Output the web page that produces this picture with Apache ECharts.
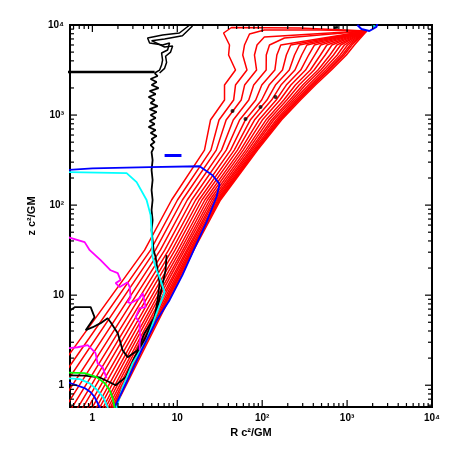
<!DOCTYPE html>
<html>
<head>
<meta charset="utf-8">
<script src="https://cdn.jsdelivr.net/npm/echarts@6/dist/echarts.min.js"></script>
<style>
  html, body { margin: 0; padding: 0; background: #fff; }
  #chart { width: 457px; height: 457px; }
</style>
</head>
<body>
<div id="chart"></div>
<script>
// axis ranges (R and z in units of GM/c^2)
const xRange = [0.545, 10000]
const yRange = [0.573, 10000]
const powLabels = { 0: '1', 1: '10', 2: '10²', 3: '10³', 4: '10⁴' }
const majorTicks = [1, 10, 100, 1000, 10000]
const minorTicks = [0.6, 0.7, 0.8, 0.9, 2, 3, 4, 5, 6, 7, 8, 9, 20, 30, 40, 50, 60, 70, 80, 90,
  200, 300, 400, 500, 600, 700, 800, 900, 2000, 3000, 4000, 5000, 6000, 7000, 8000, 9000]

// red contours: shared z levels, R of each contour at those levels
const redZ = [0.41, 31.6, 114, 408, 880, 1468, 2154, 3162, 4642, 5995]
const redR = [
  [0.147, 4.12, 8.57, 20.9, 24.6, 36.0, 36.0, 48.5, 40.2, 41.2],
  [0.195, 4.84, 10.05, 24.9, 31.0, 46.1, 48.5, 66.2, 59.0, 61.9],
  [0.247, 5.52, 11.48, 28.8, 37.6, 56.6, 62.1, 85.9, 81.1, 86.9],
  [0.313, 6.31, 13.11, 33.2, 45.6, 69.5, 79.4, 111.4, 111.7, 121.9],
  [0.387, 7.11, 14.77, 37.7, 54.2, 83.9, 98.9, 141.0, 148.9, 165.5],
  [0.467, 7.90, 16.42, 42.4, 63.2, 98.6, 120.5, 173.4, 192.6, 216.9],
  [0.551, 8.66, 18.0, 46.9, 72.3, 113.8, 143.3, 208.4, 240.4, 274.7],
  [0.634, 9.40, 19.5, 51.1, 81.1, 129.1, 166.4, 243.2, 291.7, 336.5],
  [0.733, 10.2, 21.1, 55.6, 91.2, 146.2, 192.2, 284.4, 352.4, 412.1],
  [0.823, 10.9, 22.6, 59.7, 100.3, 161.9, 217.7, 324.3, 414.9, 489],
  [0.927, 11.6, 24.1, 64.1, 110.6, 179.5, 245.9, 369, 485.3, 578.3],
  [1.016, 12.2, 25.5, 68.1, 119.2, 194.7, 272.4, 409, 552.1, 662.3],
  [1.117, 12.9, 26.8, 72.1, 128.6, 211.3, 300.4, 454.6, 628.1, 758.6],
  [1.20, 13.4, 27.9, 75.2, 136.5, 224.8, 323, 490.6, 691.8, 841.4],
  [1.286, 14.0, 29.1, 78.5, 145.9, 237.9, 350.6, 526, 765.4, 929],
  [1.365, 14.5, 30.0, 81.4, 152.7, 251.2, 372.2, 563.6, 827.6, 1011],
  [1.433, 14.9, 30.8, 83.6, 158.5, 261.6, 389.8, 594.3, 880.7, 1082],
  [1.485, 15.1, 31.5, 85.5, 162.9, 270.3, 403.6, 619.4, 922.6, 1138],
  [1.555, 15.6, 32.3, 88.1, 168.7, 282.4, 423.6, 653.6, 981.7, 1219]
]
const redTails = [
  [[35.1, 8150], [43.5, 9380], [275, 9270]],
  [[70.9, 7940], [106, 8800], [472, 8800]],
  [[106, 7360], [619, 8150]],
  [[183, 7170]]
]
const apex = [1700, 8600]

const blackLoopA = [[14.0, 10000], [10.6, 8150], [6.71, 7740], [4.47, 7170], [4.72, 6310], [6.71, 6000],
  [8.11, 6310], [7.69, 5280], [6.53, 4890], [6.71, 4080], [6.53, 3590], [6.19, 3160], [5.41, 2930]]
const blackLoopB = [[15.1, 9750], [11.5, 7590], [7.09, 7000], [4.98, 6700], [7.09, 5700], [8.81, 5850],
  [8.34, 5000], [7.28, 4500], [7.48, 3840], [7.09, 3300], [6.19, 2930]]
const blackTrace = [[5.41, 2930], [5.86, 2712], [4.85, 2512], [5.71, 2326], [4.98, 2154], [6.02, 1995],
  [4.72, 1848], [5.56, 1711], [4.59, 1585], [5.41, 1468], [4.85, 1359], [5.86, 1259], [4.72, 1166],
  [5.71, 1080], [4.85, 1000], [5.56, 926], [4.72, 858], [5.41, 794], [4.59, 736], [5.56, 681],
  [4.85, 631], [5.71, 584], [4.98, 541], [5.41, 501], [4.85, 464], [5.26, 430], [4.98, 388],
  [5.12, 316], [4.98, 245], [5.12, 190], [4.98, 147], [5.12, 114], [4.98, 88], [5.12, 68.1],
  [4.98, 52.7], [5.12, 40.8], [5.26, 31.6], [5.56, 26.4], [5.86, 18.9], [6.19, 13.6], [5.86, 8.80],
  [5.41, 5.70], [4.12, 3.78], [3.41, 2.45], [2.60, 2.05], [2.27, 2.45], [1.99, 3.78], [1.64, 5.01],
  [1.51, 5.55], [1.25, 4.89], [1.01, 4.41], [0.834, 4.08], [1.06, 5.70], [0.955, 7.36], [0.811, 7.36],
  [0.619, 7.36], [0.512, 6.47], [0.45, 6.2]]
const blackLow = [[0.45, 1.29], [0.811, 1.28], [1.22, 1.22], [1.60, 1.08], [1.88, 1.0], [2.47, 1.23],
  [3.15, 2.05], [4.24, 3.41], [5.56, 5.99], [6.36, 10.5], [7.28, 18.9], [7.48, 27.8]]
const blackBar = [[0.5, 3000], [5.41, 3000]]
const blackDots = [[44.7, 1108], [63.6, 903], [95.5, 1227], [143.5, 1585]]
const blackTop = [[700, 9300], [780, 9450]]

const blueOuter = [[0.5, 245], [1.0, 256], [4.72, 264], [18.3, 270], [26.0, 215], [31.5, 171],
  [29.0, 123], [22.1, 64.7], [16.0, 33.3], [11.5, 16.7], [8.11, 8.80], [5.71, 5.27], [3.80, 2.45],
  [2.60, 1.14], [1.83, 0.57], [1.69, 0.46]]
const blueDash = [[7.09, 355], [11.2, 355]]
const blueArc = [[0.45, 1.08], [0.512, 1.08], [0.811, 0.93], [0.955, 0.836], [1.06, 0.74], [1.22, 0.57], [1.25, 0.50]]
const blueTop = [[1321, 10000], [1473, 9030], [1829, 8577], [2213, 9506], [2270, 10260]]

const cyanOuter = [[0.5, 233], [2.53, 227], [3.32, 180], [4.35, 114], [4.85, 77.4], [4.98, 52.7],
  [5.12, 26.4], [5.71, 18.9], [6.19, 15.8], [7.09, 10.8], [6.53, 8.80], [5.71, 6.31], [4.35, 3.16],
  [2.98, 1.76], [2.27, 0.95], [1.93, 0.57], [1.78, 0.43]]
const cyanArc = [[0.45, 1.2], [0.709, 1.17], [0.93, 1.05], [1.15, 0.88], [1.36, 0.72], [1.51, 0.57], [1.56, 0.50]]
const cyanTop = [[1950, 9800], [2150, 9600]]

const greenArc = [[0.45, 1.39], [0.811, 1.36], [1.12, 1.23], [1.40, 1.05], [1.60, 0.88], [1.73, 0.72],
  [1.83, 0.57], [1.85, 0.50]]

const magentaUpper = [[0.512, 44.1], [0.811, 38.8], [0.93, 31.6], [1.25, 24.5], [1.64, 18.9], [1.99, 17.6],
  [2.15, 14.7], [1.88, 13.6], [2.10, 12.3], [2.60, 13.9], [2.75, 12.3], [2.82, 9.5], [2.60, 8.36],
  [2.82, 8.15], [3.60, 9.26], [3.91, 10.5], [4.24, 7.36], [3.60, 7.17], [3.23, 5.70], [3.60, 5.01],
  [3.60, 4.08], [3.70, 3.41], [3.60, 2.93], [3.60, 2.45]]
const magentaLower = [[0.45, 2.58], [0.512, 2.58], [0.671, 2.64], [0.881, 2.78], [1.01, 2.45], [1.09, 2.27],
  [1.15, 1.76], [1.32, 1.58], [1.47, 1.20]]

function powLabel (v) {
  const e = Math.log10(v)
  const r = Math.round(e)
  return Math.abs(e - r) < 1e-6 && powLabels[r] !== undefined ? powLabels[r] : ''
}

function line (data, color, width) {
  return {
    type: 'line',
    data: data,
    symbol: 'none',
    clip: true,
    silent: true,
    lineStyle: { color: color, width: width },
    z: 3
  }
}

const tickStyle = { stroke: '#000', lineWidth: 1.2 }
const textStyle = { color: '#000', fontFamily: 'Liberation Sans', fontWeight: 'bold', fontSize: 10 }

const series = []
redR.forEach(function (rs, i) {
  const pts = rs.map(function (r, k) { return [r, redZ[k]] }).concat(redTails[i] || [], [apex])
  series.push(line(pts, '#ff0000', 1.5))
})
series.push(line(blackLoopA, '#000', 1.5))
series.push(line(blackLoopB, '#000', 1.5))
series.push(line(blackTrace, '#000', 1.8))
series.push(line(blackLow, '#000', 1.8))
series.push(line(blackBar, '#000', 2.5))
series.push(line(blackTop, '#000', 2.5))
series.push(line(cyanOuter, '#00ffff', 1.8))
series.push(line(cyanArc, '#00ffff', 1.8))
series.push(line(cyanTop, '#00ffff', 2))
series.push(line(blueOuter, '#0000ff', 1.8))
series.push(line(blueDash, '#0000ff', 3))
series.push(line(blueArc, '#0000ff', 1.8))
series.push(line(blueTop, '#0000ff', 2))
series.push(line(greenArc, '#00ff00', 1.8))
series.push(line(magentaUpper, '#ff00ff', 1.8))
series.push(line(magentaLower, '#ff00ff', 1.8))
series.push({
  type: 'scatter',
  data: blackDots,
  symbolSize: 4,
  itemStyle: { color: '#000' },
  silent: true,
  z: 4
})

// inward ticks on all four sides
const xTickData = majorTicks.map(function (v) { return [v, 1, 1] })
  .concat(minorTicks.map(function (v) { return [v, 1, 0] }))
const yTickData = majorTicks.map(function (v) { return [1, v, 1] })
  .concat(minorTicks.map(function (v) { return [1, v, 0] }))

series.push({
  type: 'custom',
  data: xTickData,
  encode: { x: 0, y: 1 },
  silent: true,
  z: 10,
  renderItem: function (params, api) {
    const cs = params.coordSys
    const x = api.coord([api.value(0), 1])[0]
    const len = api.value(2) === 1 ? 7 : 4
    return {
      type: 'group',
      children: [
        { type: 'line', shape: { x1: x, y1: cs.y + cs.height, x2: x, y2: cs.y + cs.height - len }, style: tickStyle },
        { type: 'line', shape: { x1: x, y1: cs.y, x2: x, y2: cs.y + len }, style: tickStyle }
      ]
    }
  }
})
series.push({
  type: 'custom',
  data: yTickData,
  encode: { x: 0, y: 1 },
  silent: true,
  z: 10,
  renderItem: function (params, api) {
    const cs = params.coordSys
    const y = api.coord([1, api.value(1)])[1]
    const len = api.value(2) === 1 ? 7 : 4
    return {
      type: 'group',
      children: [
        { type: 'line', shape: { x1: cs.x, y1: y, x2: cs.x + len, y2: y }, style: tickStyle },
        { type: 'line', shape: { x1: cs.x + cs.width, y1: y, x2: cs.x + cs.width - len, y2: y }, style: tickStyle }
      ]
    }
  }
})

const myChart = echarts.init(document.getElementById('chart'))
const option = {
  animation: false,
  backgroundColor: '#fff',
  grid: {
    left: 70,
    right: 25,
    top: 25,
    bottom: 50,
    show: true,
    borderColor: '#000',
    borderWidth: 2,
    backgroundColor: 'transparent'
  },
  xAxis: {
    type: 'log',
    logBase: 10,
    min: xRange[0],
    max: xRange[1],
    name: 'R c²/GM',
    nameLocation: 'middle',
    nameGap: 19,
    nameTextStyle: Object.assign({}, textStyle, { fontSize: 11 }),
    axisLine: { show: false },
    axisTick: { show: false },
    splitLine: { show: false },
    axisLabel: Object.assign({ formatter: powLabel, margin: 6, showMaxLabel: true, showMinLabel: true }, textStyle)
  },
  yAxis: {
    type: 'log',
    logBase: 10,
    min: yRange[0],
    max: yRange[1],
    name: 'z c²/GM',
    nameLocation: 'middle',
    nameGap: 25,
    nameTextStyle: Object.assign({}, textStyle, { fontSize: 11 }),
    axisLine: { show: false },
    axisTick: { show: false },
    splitLine: { show: false },
    axisLabel: Object.assign({ formatter: powLabel, margin: 6, showMaxLabel: true, showMinLabel: true }, textStyle)
  },
  series: series
}
myChart.setOption(option, true)
</script>
</body>
</html>
